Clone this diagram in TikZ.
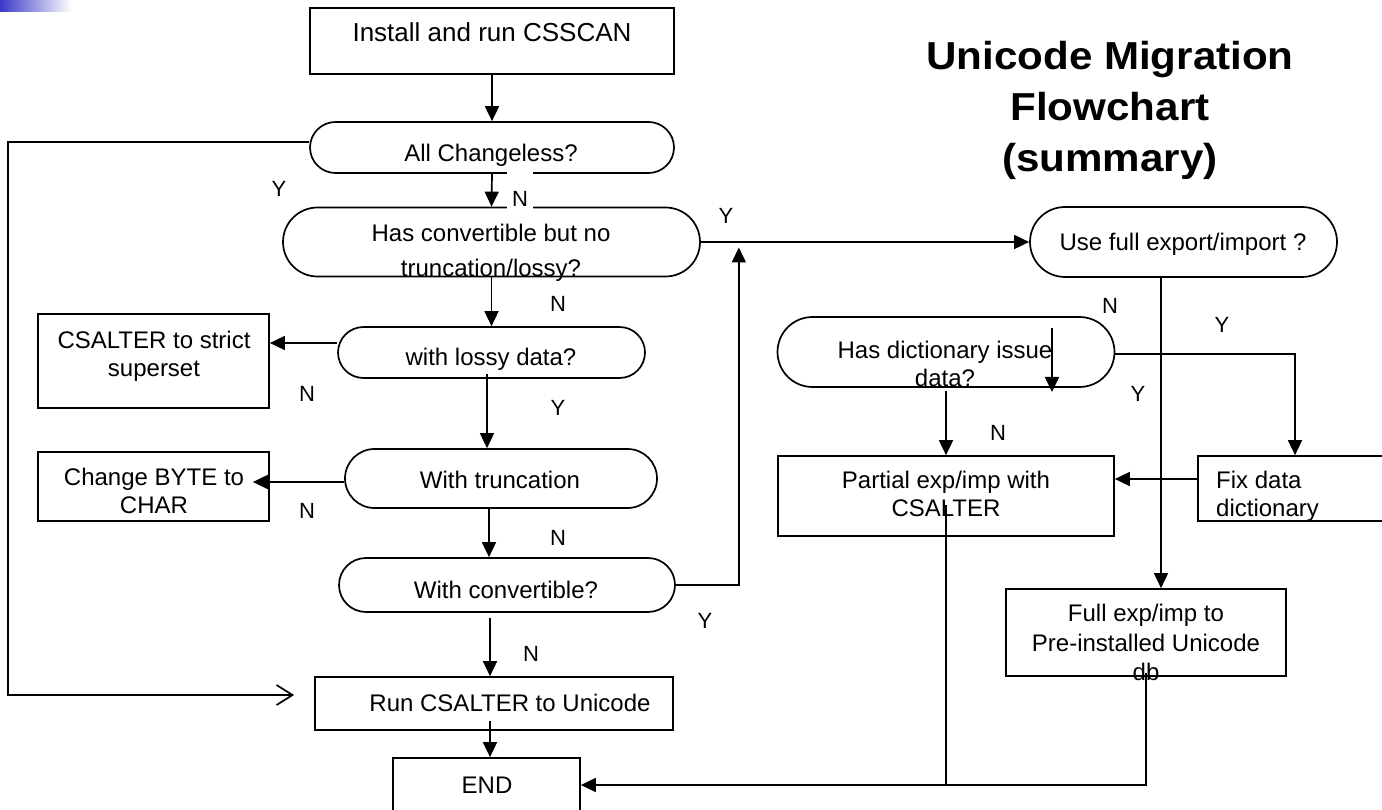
\documentclass[tikz,border=0pt]{standalone}
\usepackage{fontspec}
\setmainfont{Liberation Sans}
\newfontfamily\titlefont{Liberation Sans}[FakeStretch=1.08]
\usetikzlibrary{arrows.meta}
\definecolor{topblue}{RGB}{58,58,200}
\newcommand\stack[1]{\begin{tabular}[t]{@{}c@{}}#1\end{tabular}}
\newcommand\lstack[1]{\begin{tabular}[t]{@{}l@{}}#1\end{tabular}}
\tikzset{
  box/.style={draw, line width=1.7pt, rectangle, inner sep=0pt},
  term/.style={draw, line width=1.7pt, rectangle, rounded corners=#1, inner sep=0pt},
  arr/.style={-{Triangle[length=15pt,width=14pt]}, line width=1.7pt},
  openarr/.style={-{Straight Barb[length=16pt,width=20pt]}, line width=1.7pt},
  conn/.style={line width=1.7pt},
  txt/.style={anchor=base, inner sep=0pt, font=\fontsize{24}{28}\selectfont},
  bigtxt/.style={anchor=base, inner sep=0pt, font=\fontsize{26}{30}\selectfont},
  lbl/.style={anchor=base, inner sep=0pt, font=\fontsize{22}{26}\selectfont},
}
\begin{document}
\begin{tikzpicture}[x=1pt,y=-1pt]
\clip (0,0) rectangle (1382,810);
\shade[left color=topblue, right color=white] (0,0) rectangle (72,12);

% title
\node[anchor=base, inner sep=0pt, font=\titlefont\bfseries\fontsize{39}{51}\selectfont] (title) at (1110,70)
  {\stack{Unicode Migration\\Flowchart\\(summary)}};

% shapes
\node[box, minimum width=364pt, minimum height=66pt] (install) at (492,41) {};
\node[term=25.5pt, minimum width=364pt, minimum height=51pt] (chg) at (492,147.5) {};
\node[term=34.5pt, minimum width=417pt, minimum height=69pt] (conv) at (491.5,242) {};
\node[term=25.5pt, minimum width=307pt, minimum height=51pt] (lossy) at (491.5,352.5) {};
\node[term=29.5pt, minimum width=312pt, minimum height=59pt] (trunc) at (501,478.5) {};
\node[term=27pt, minimum width=336pt, minimum height=54pt] (wconv) at (507,585) {};
\node[box, minimum width=231pt, minimum height=94pt] (strict) at (153.5,361) {};
\node[box, minimum width=231pt, minimum height=69pt] (byte) at (153.5,486.5) {};
\node[box, minimum width=358pt, minimum height=53pt] (run) at (494,703.5) {};
\node[box, minimum width=187pt, minimum height=54pt] (end) at (486.5,785) {};
\node[term=35pt, minimum width=307pt, minimum height=70pt] (usefull) at (1183.5,242) {};
\node[term=35pt, minimum width=337pt, minimum height=70pt] (dict) at (946,352) {};
\node[box, minimum width=336pt, minimum height=80pt] (partial) at (946,496) {};
\node[box, minimum width=190pt, minimum height=65pt] (fix) at (1293,488.5) {};
\node[box, minimum width=280pt, minimum height=87pt] (full) at (1146,632.5) {};

% white patch behind the first N
\node[fill=white, minimum width=26pt, minimum height=37pt, inner sep=0pt] (mask) at (520,190.5) {};

% texts
\node[bigtxt] (tinstall) at (492,42) {Install and run CSSCAN};
\node[txt] (tchg) at (491,161.5) {All Changeless?};
\node[txt] (tconv) at (491,241.5) {\stack{Has convertible but no\\[7pt]truncation/lossy?}};
\node[txt] (tlossy) at (491,365.5) {with lossy data?};
\node[txt] (ttrunc) at (500,488.5) {With truncation};
\node[txt] (twconv) at (506,598.5) {With convertible?};
\node[txt] (tstrict) at (154,348.5) {\stack{CSALTER to strict\\superset}};
\node[txt] (tbyte) at (154,485.5) {\stack{Change BYTE to\\CHAR}};
\node[txt] (trun) at (510,711.5) {Run CSALTER to Unicode};
\node[txt] (tend) at (487,793.5) {END};
\node[txt] (tusefull) at (1183,250.5) {Use full export/import ?};
\node[txt] (tdict) at (945,358.5) {\stack{Has dictionary issue\\data?}};
\node[txt] (tpartial) at (946,488.5) {\stack{Partial exp/imp with\\CSALTER}};
\node[txt, anchor=base west] (tfix) at (1216,488.5) {\lstack{Fix data\\dictionary}};
\node[txt] (tfull) at (1146,621.5) {\stack{Full exp/imp to\\[1.5pt]Pre-installed Unicode\\[1.5pt]db}};

% labels
\node[lbl] (ly1) at (279,196.5) {Y};
\node[lbl] (ln1) at (520,206.5) {N};
\node[lbl] (ly2) at (726,223.5) {Y};
\node[lbl] (ln2) at (558,311.5) {N};
\node[lbl] (ln3) at (307,401.5) {N};
\node[lbl] (ly3) at (558,415.5) {Y};
\node[lbl] (ln4) at (307,518.5) {N};
\node[lbl] (ln5) at (558,545.5) {N};
\node[lbl] (ly4) at (705,628.5) {Y};
\node[lbl] (ln6) at (531,661.5) {N};
\node[lbl] (ln7) at (1110,313.5) {N};
\node[lbl] (ly5) at (1222,332.5) {Y};
\node[lbl] (ly6) at (1138,401.5) {Y};
\node[lbl] (ln8) at (998,440.5) {N};

% connectors
\draw[arr] (install.south) -- (chg.north);
\draw[arr] (chg.south) -- (conv.north);
\coordinate (loopend) at ([xshift=-20pt,yshift=8.5pt]run.west);
\draw[openarr] ([yshift=5.5pt]chg.west) -- (8,142) |- (loopend);
\draw[arr] (conv.south) -- (lossy.north);
\coordinate (lw) at ([yshift=9.5pt]lossy.west);
\draw[arr] (lw) -- (lw -| strict.east);
\draw[arr] ([xshift=-4.5pt,yshift=5pt]lossy.south) -- ([xshift=-14pt]trunc.north);
\coordinate (tw) at ([yshift=-3.5pt]trunc.west);
\coordinate (bt) at ([xshift=-17pt]byte.east);
\draw[arr] (tw) -- (tw -| bt);
\draw[arr] ([xshift=-12pt]trunc.south) -- ([xshift=-18pt]wconv.north);
\coordinate (ret) at ([xshift=38pt,yshift=-5.5pt]conv.east);
\draw[arr] (wconv.east) -| (ret);
\draw[arr] ([xshift=-17pt,yshift=-5pt]wconv.south) -- ([xshift=-4pt]run.north);
\draw[arr] ([xshift=-4pt,yshift=10pt]run.south) -- ([xshift=3.5pt]end.north);
\draw[arr] (conv.east) -- (conv.east -| usefull.west);
\draw[arr] ([xshift=-22.5pt]usefull.south) -- ([xshift=15pt]full.north);
\draw[arr] ([yshift=-2pt]dict.east) -| ([xshift=2pt]fix.north);
\draw[arr] ([xshift=106pt,yshift=24pt]dict.center) -- ([xshift=106pt,yshift=-40pt]dict.center);
\draw[arr] ([yshift=-3pt]dict.south) -- (partial.north);
\coordinate (fw) at ([yshift=9.5pt]fix.west);
\draw[arr] (fw) -- (fw -| partial.east);
\draw[conn] ([yshift=-9pt]partial.center) -- (partial.center |- end.east);
\draw[arr] ([yshift=-40.5pt]full.center) |- (end.east);
\end{tikzpicture}
\end{document}
